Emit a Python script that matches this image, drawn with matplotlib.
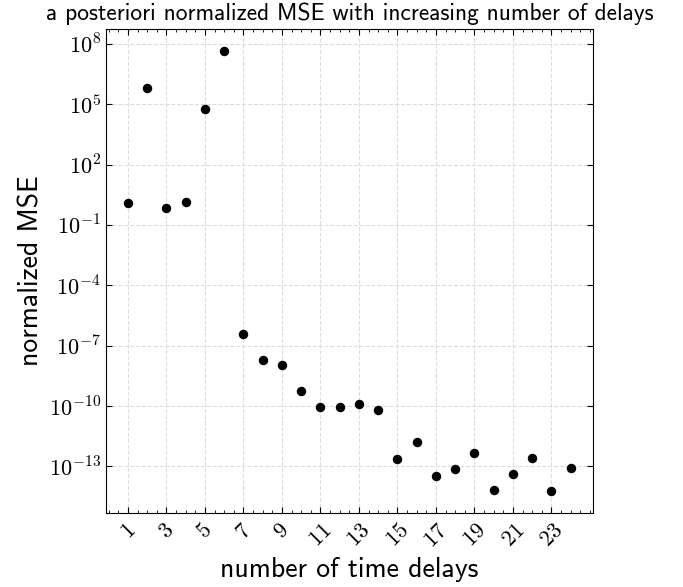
import os
import numpy as np
import matplotlib
matplotlib.use("Agg")
import matplotlib.pyplot as plt
from matplotlib.font_manager import FontProperties
from matplotlib.ticker import FixedLocator, AutoMinorLocator

delays = list(range(1, 25))
log_mse = [0.09, 5.81, -0.14, 0.16, 4.75, 7.65, -6.43, -7.72, -7.95, -9.26,
           -10.03, -10.04, -9.91, -10.19, -12.65, -11.80, -13.46, -13.11,
           -12.33, -14.17, -13.36, -12.58, -14.22, -13.08]
mse = [10.0 ** v for v in log_mse]
xticks = list(range(1, 24, 2))
yticks_exp = [-13, -10, -7, -4, -1, 2, 5, 8]

plt.rcParams['mathtext.fontset'] = 'cm'
sans = FontProperties(fname=os.path.join(matplotlib.get_data_path(), 'fonts', 'ttf', 'cmss10.ttf'))

fig = plt.figure(figsize=(6.83, 5.87), dpi=100)
ax = fig.add_axes([0.155, 0.126, 0.713, 0.825])
ax.plot(delays, mse, 'o', color='black', markersize=5.8)
ax.set_yscale('log')

ax.xaxis.set_major_locator(FixedLocator(xticks))
ax.xaxis.set_minor_locator(AutoMinorLocator(4))
ax.yaxis.set_major_locator(FixedLocator([10.0 ** e for e in yticks_exp]))
ax.yaxis.set_minor_locator(FixedLocator([]))
ax.set_xticklabels([r'$%d$' % t for t in xticks], rotation=45, fontsize=16)
ax.set_yticklabels([r'$10^{%d}$' % e for e in yticks_exp], fontsize=16)

ax.tick_params(which='both', direction='in', top=True, right=True)
ax.tick_params(which='major', length=4, width=0.8)
ax.tick_params(which='minor', length=2, width=0.6)
ax.tick_params(axis='x', pad=5)
ax.grid(True, which='major', linestyle='--', color='#dddddd', linewidth=0.8)
ax.set_axisbelow(True)

ax.set_title('a posteriori normalized MSE with increasing number of delays',
             fontproperties=sans, fontsize=16.9, pad=6)
ax.set_xlabel('number of time delays', fontproperties=sans, fontsize=20)
ax.set_ylabel('normalized MSE', fontproperties=sans, fontsize=20)

fig.savefig('out.png', dpi=100)
